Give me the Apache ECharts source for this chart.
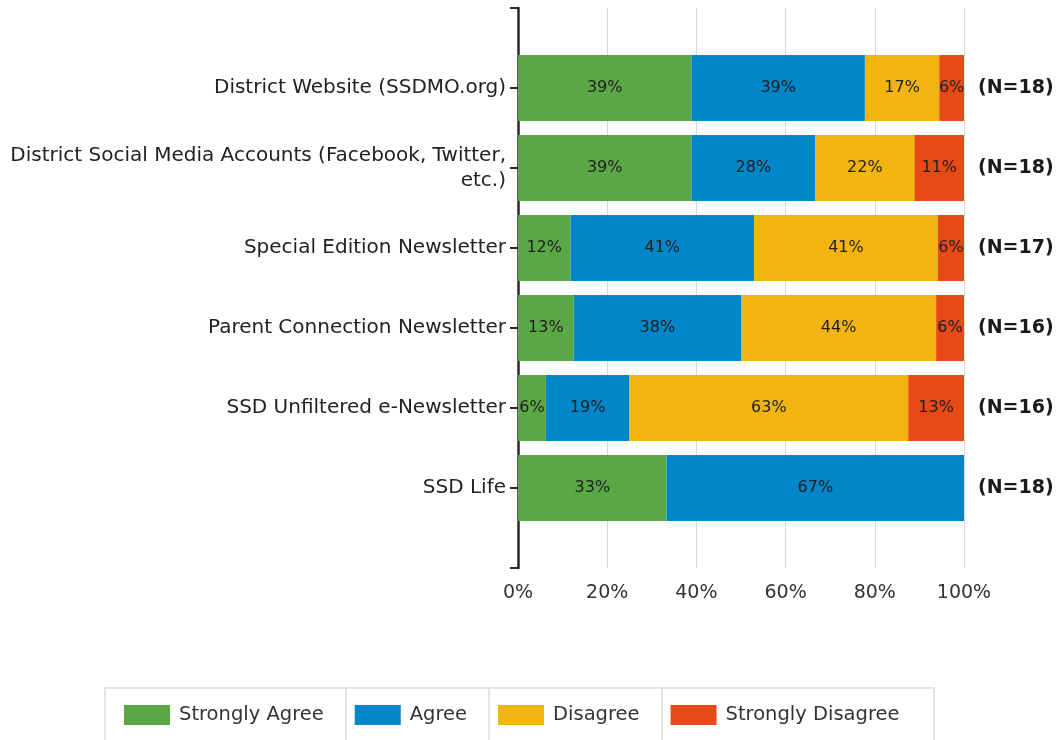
<!DOCTYPE html>
<html>
<head>
<meta charset="utf-8">
<script src="https://cdn.jsdelivr.net/npm/echarts@6/dist/echarts.min.js"></script>
<style>html,body{margin:0;padding:0;background:#fff;}#c{width:1064px;height:740px;}</style>
</head>
<body>
<div id="c"></div>
<script>
var categories = ['District Website (SSDMO.org)', 'District Social Media Accounts (Facebook, Twitter,\netc.)', 'Special Edition Newsletter', 'Parent Connection Newsletter', 'SSD Unfiltered e-Newsletter', 'SSD Life'];
var respondents = [18, 18, 17, 16, 16, 18];
var stronglyAgree = [38.89, 38.89, 11.76, 12.5, 6.25, 33.33];
var agree = [38.89, 27.78, 41.18, 37.5, 18.75, 66.67];
var disagree = [16.67, 22.22, 41.18, 43.75, 62.5, 0];
var stronglyDisagree = [5.56, 11.11, 5.88, 6.25, 12.5, 0];
var seriesNames = ['Strongly Agree', 'Agree', 'Disagree', 'Strongly Disagree'];
var colors = ['#5aa845', '#0086c9', '#f2b50f', '#e84a17'];
var xTicks = [0, 20, 40, 60, 80, 100];

var FONT = 'DejaVu Sans';
var cats = [''].concat(categories).concat(['']);
var nLabels = [''].concat(respondents.map(function (n) { return '(N=' + n + ')'; })).concat(['']);
function pad(a) { return [null].concat(a).concat([null]); }
var values = [stronglyAgree, agree, disagree, stronglyDisagree];

var chart = echarts.init(document.getElementById('c'));
chart.setOption({
  animation: false,
  color: colors,
  grid: { left: 518, right: 100, top: 8, bottom: 172, containLabel: false },
  xAxis: {
    type: 'value', min: 0, max: 100, interval: 20,
    axisLine: { show: false }, axisTick: { show: false },
    splitLine: { lineStyle: { color: '#d6d6d6', width: 1 } },
    axisLabel: { formatter: function (v) { return xTicks.indexOf(v) >= 0 ? v + '%' : ''; }, fontFamily: FONT, fontSize: 19, color: '#333', margin: 16 }
  },
  yAxis: [{
    type: 'category', data: cats, inverse: true, boundaryGap: false,
    axisLine: { show: true, lineStyle: { color: '#2a2a2a', width: 2.5 } },
    axisTick: { show: true, length: 8, lineStyle: { color: '#2a2a2a', width: 2 } },
    axisLabel: { fontFamily: FONT, fontSize: 20, color: '#222', margin: 12, align: 'right', lineHeight: 25 },
    splitLine: { show: false }
  }, {
    type: 'category', data: nLabels, inverse: true, boundaryGap: false, position: 'right',
    axisLine: { show: false }, axisTick: { show: false },
    axisLabel: { fontFamily: FONT, fontSize: 19, fontWeight: 'bold', color: '#1a1a1a', margin: 14 },
    splitLine: { show: false }
  }],
  legend: {
    data: seriesNames, left: 124, top: 705, padding: 0,
    itemWidth: 46, itemHeight: 20, itemGap: 31, icon: 'rect',
    textStyle: { fontFamily: FONT, fontSize: 19.5, color: '#333', padding: [0, 0, 0, 4] }
  },
  graphic: [
    { type: 'rect', shape: { x: 105, y: 688, width: 829, height: 60 }, style: { fill: 'none', stroke: '#dcdcdc', lineWidth: 1.5 }, silent: true },
    { type: 'line', shape: { x1: 346, y1: 688, x2: 346, y2: 748 }, style: { stroke: '#dcdcdc', lineWidth: 1.5 }, silent: true },
    { type: 'line', shape: { x1: 489, y1: 688, x2: 489, y2: 748 }, style: { stroke: '#dcdcdc', lineWidth: 1.5 }, silent: true },
    { type: 'line', shape: { x1: 662, y1: 688, x2: 662, y2: 748 }, style: { stroke: '#dcdcdc', lineWidth: 1.5 }, silent: true }
  ],
  series: seriesNames.map(function (name, i) {
    return {
      name: name, type: 'bar', stack: 'total', barWidth: 66,
      data: pad(values[i]),
      label: {
        show: true, position: 'inside', fontFamily: FONT, fontSize: 16, color: '#1f1f1f',
        formatter: function (p) { return p.value > 0 ? Math.round(p.value) + '%' : ''; }
      }
    };
  })
});
</script>
</body>
</html>
